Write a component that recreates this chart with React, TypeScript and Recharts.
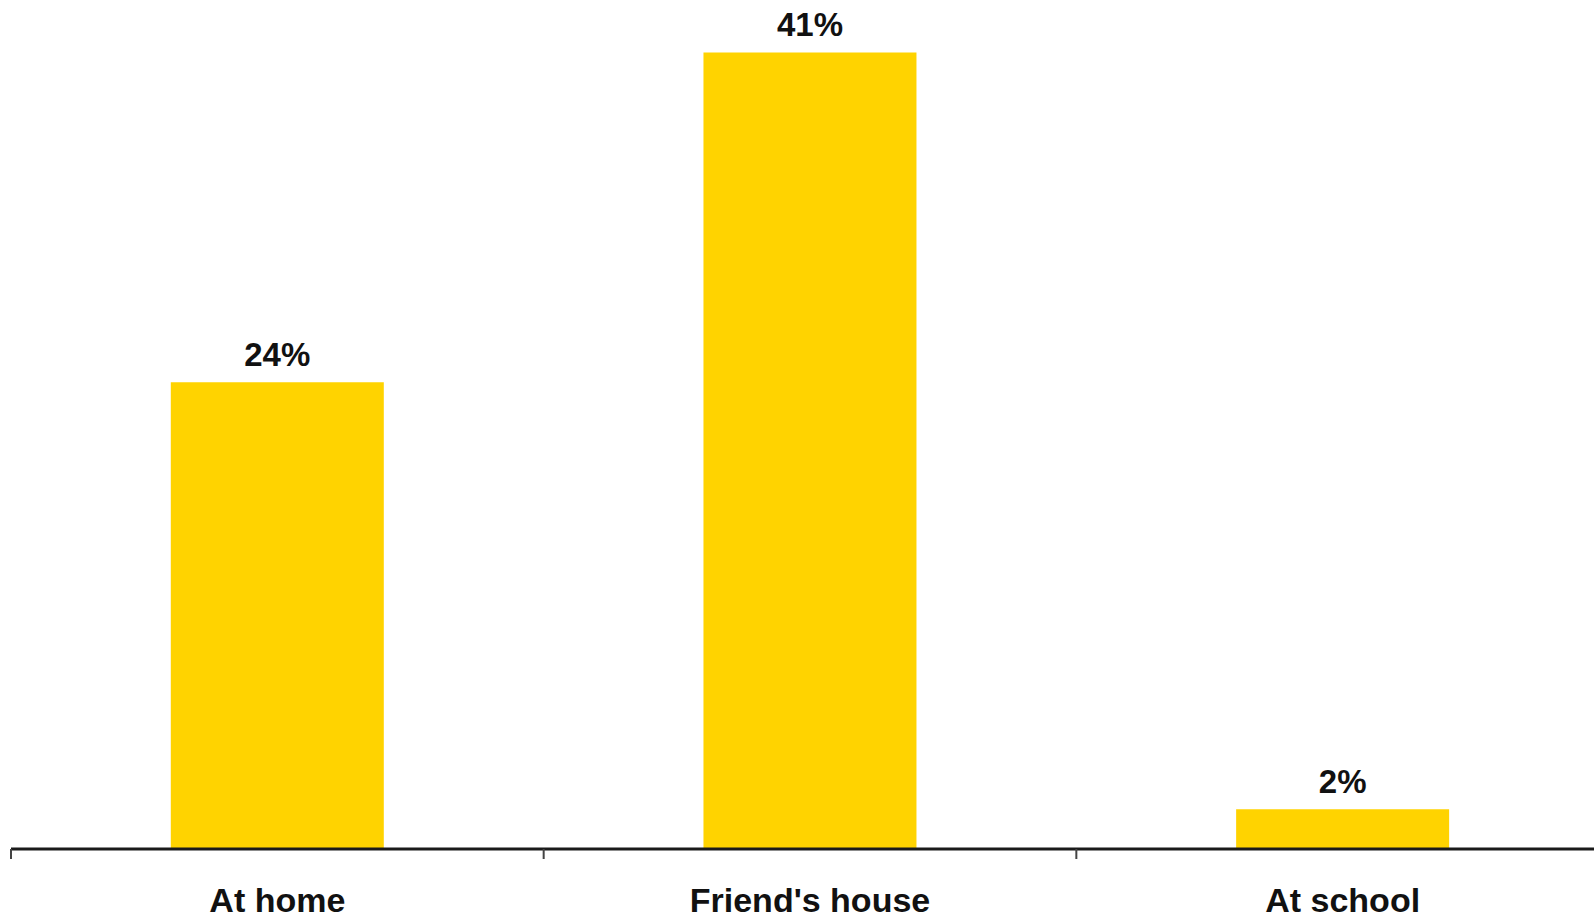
import { BarChart, Bar, XAxis, YAxis, LabelList } from 'recharts'

const places = ['At home', "Friend's house", 'At school']
const shares = [24, 41, 2]
const boundaryTicks = [0, 1, 2, 3]

const YELLOW = '#FFD300'
const FONT = '"Liberation Sans", Arial, sans-serif'

// slot = category index centre, only used to give the boundary axis its numeric domain
const data = places.map((place, i) => ({ place, share: shares[i], slot: i + 0.5 }))

const NoLabel = () => <g />

export default function App() {
  return (
    <div
      style={{
        position: 'fixed', left: 0, top: 0, width: 1594, height: 919,
        overflow: 'hidden', background: '#fff', fontFamily: FONT,
      }}
    >
      <BarChart
        width={1612}
        height={919}
        data={data}
        margin={{ top: 33, right: 3, left: 11, bottom: 69 }}
        barCategoryGap="30%"
      >
        <YAxis hide domain={[0, 42]} />
        <XAxis
          dataKey="place"
          height={1}
          axisLine={false}
          tickLine={false}
          tickSize={6}
          tickMargin={34}
          interval={0}
          tick={{ fontSize: 34, fontWeight: 700, fill: '#111', fontFamily: FONT }}
        />
        {/* axis line + ticks sitting between categories */}
        <XAxis
          xAxisId="bounds"
          dataKey="slot"
          type="number"
          domain={[0, 3]}
          ticks={boundaryTicks}
          allowDataOverflow
          interval={0}
          height={1}
          tick={NoLabel}
          tickSize={10}
          axisLine={{ stroke: '#1a1a1a', strokeWidth: 3 }}
          tickLine={{ stroke: '#444', strokeWidth: 2 }}
        />
        <Bar dataKey="share" fill={YELLOW} isAnimationActive={false}>
          <LabelList
            dataKey="share"
            position="top"
            offset={16}
            formatter={(v: any) => `${v}%`}
            style={{ fontSize: 33, fontWeight: 700, fill: '#111', fontFamily: FONT }}
          />
        </Bar>
      </BarChart>
    </div>
  )
}
